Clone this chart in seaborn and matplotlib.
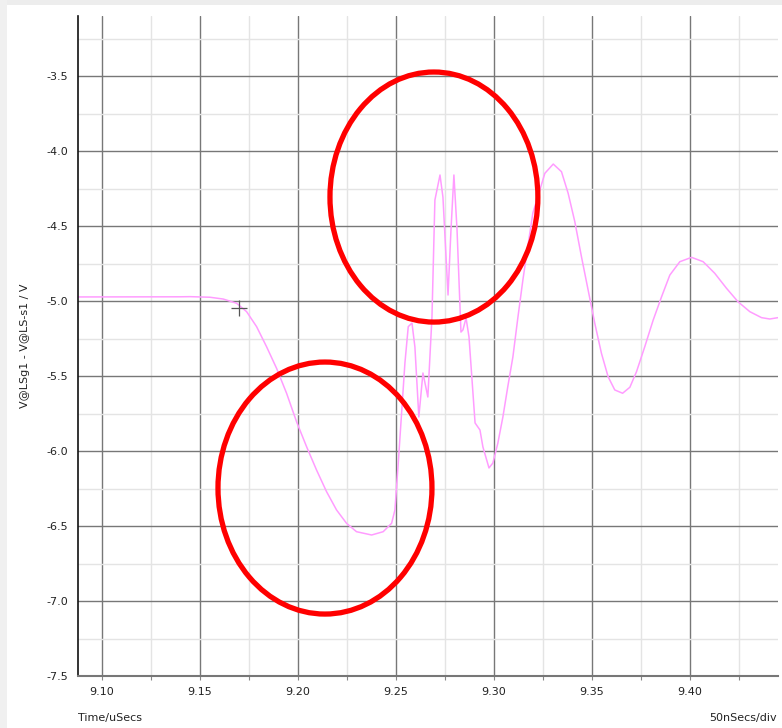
import numpy as np
import pandas as pd
import matplotlib
matplotlib.use("Agg")
import matplotlib.pyplot as plt
from matplotlib.patches import Ellipse, Rectangle
from matplotlib.ticker import MultipleLocator, FixedLocator
import seaborn as sns

# -----------------------------
# Data
# -----------------------------
time_us = [
    9.0875, 9.1398, 9.1449, 9.1551, 9.1619, 9.1687, 9.1738, 9.1789, 9.1840,
    9.1891, 9.1942, 9.1993, 9.2044, 9.2095, 9.2146, 9.2197, 9.2248, 9.2299,
    9.2376, 9.2435, 9.2478, 9.2495, 9.2512, 9.2529, 9.2546, 9.2563, 9.2582,
    9.2597, 9.2617, 9.2638, 9.2663, 9.2684, 9.2699, 9.2725, 9.2740, 9.2766,
    9.2781, 9.2796, 9.2812, 9.2832, 9.2842, 9.2858, 9.2873, 9.2904, 9.2929,
    9.2944, 9.2975, 9.2995, 9.3020, 9.3046, 9.3071, 9.3097, 9.3122, 9.3148,
    9.3173, 9.3199, 9.3230, 9.3260, 9.3303, 9.3345, 9.3379, 9.3413, 9.3447,
    9.3481, 9.3515, 9.3549, 9.3583, 9.3617, 9.3657, 9.3694, 9.3728, 9.3770,
    9.3813, 9.3856, 9.3898, 9.3949, 9.4009, 9.4068, 9.4127, 9.4187, 9.4246,
    9.4306, 9.4366, 9.4408, 9.4450,
]
voltage = [
    -4.973, -4.972, -4.971, -4.975, -4.987, -5.015, -5.071, -5.171, -5.305,
    -5.449, -5.615, -5.805, -5.971, -6.127, -6.271, -6.393, -6.482, -6.538,
    -6.560, -6.538, -6.482, -6.393, -6.080, -5.747, -5.413, -5.171, -5.147,
    -5.307, -5.773, -5.480, -5.640, -5.107, -4.327, -4.160, -4.307, -4.960,
    -4.527, -4.160, -4.527, -5.207, -5.193, -5.113, -5.240, -5.813, -5.860,
    -5.973, -6.113, -6.080, -5.949, -5.773, -5.571, -5.373, -5.115, -4.860,
    -4.638, -4.413, -4.280, -4.149, -4.087, -4.138, -4.282, -4.471, -4.705,
    -4.927, -5.149, -5.349, -5.505, -5.593, -5.615, -5.575, -5.471, -5.305,
    -5.127, -4.971, -4.827, -4.738, -4.709, -4.738, -4.815, -4.915, -5.005,
    -5.071, -5.111, -5.120, -5.111,
]

# cursor cross and the two red highlight ellipses (center t, center v, width, height)
cursor_t, cursor_v = 9.1699, -5.047
ellipse_upper = (9.2694, -4.307, 0.1061, 1.667)
ellipse_lower = (9.2138, -6.247, 0.1092, 1.680)

x_ticks = [9.10, 9.15, 9.20, 9.25, 9.30, 9.35, 9.40]
y_ticks = [-7.5, -7.0, -6.5, -6.0, -5.5, -5.0, -4.5, -4.0, -3.5]

df = pd.DataFrame({"t": time_us, "v": voltage})

# -----------------------------
# Plot
# -----------------------------
sns.set_theme(style="white")
plt.rcParams["font.family"] = ["DejaVu Sans"]

W, H = 782, 728
fig = plt.figure(figsize=(W / 100, H / 100), dpi=100)
fig.patch.set_facecolor("white")

# window frame strips
fig.add_artist(Rectangle((0, 1 - 5 / H), 1, 5 / H, transform=fig.transFigure,
                         color="#ededed", lw=0))
fig.add_artist(Rectangle((0, 0), 7 / W, 1, transform=fig.transFigure,
                         color="#f0f0f0", lw=0))

left, right, top, bottom = 77.5, 778, 16, 676
ax = fig.add_axes([left / W, 1 - bottom / H, (right - left) / W, (bottom - top) / H])

ax.set_xlim(9.0875, 9.4450)
ax.set_ylim(-7.5, -3.1)

ax.xaxis.set_major_locator(FixedLocator(x_ticks))
ax.xaxis.set_minor_locator(MultipleLocator(0.025))
ax.yaxis.set_major_locator(FixedLocator(y_ticks))
ax.yaxis.set_minor_locator(MultipleLocator(0.25))

ax.grid(which="minor", color="#e4e4e4", lw=1.0)
ax.grid(which="major", color="#777777", lw=1.0)
ax.set_axisbelow(True)

sns.lineplot(data=df, x="t", y="v", ax=ax, color="#ff9cff", lw=1.1, sort=False)
ax.plot([cursor_t], [cursor_v], marker="+", ms=12, mew=0.9, color="#555555", ls="none")

for cx, cy, ew, eh in (ellipse_upper, ellipse_lower):
    ax.add_patch(Ellipse((cx, cy), ew, eh, fill=False, ec="#ff0000", lw=3.8,
                         clip_on=False, zorder=5))

ax.set_xticklabels([f"{x:.2f}" for x in x_ticks])
ax.set_yticklabels([f"{y:.1f}" for y in y_ticks])
ax.tick_params(axis="x", which="both", direction="out", length=3, width=0.8,
               color="#888888", pad=5, labelsize=8, labelcolor="#222222", bottom=True)
ax.tick_params(axis="y", which="both", length=0, pad=7, labelsize=8, labelcolor="#222222")

for s in ("top", "right"):
    ax.spines[s].set_visible(False)
ax.spines["left"].set_color("#111111")
ax.spines["left"].set_linewidth(1.2)
ax.spines["bottom"].set_color("#777777")
ax.spines["bottom"].set_linewidth(1.5)

ax.set_xlabel("")
ax.set_ylabel("V@LSg1 - V@LS-s1 / V", fontsize=8, color="#222222")
ax.yaxis.set_label_coords(-0.068, 0.5)

fig.text(78 / W, 1 - 718 / H, "Time/uSecs", fontsize=8, color="#222222",
         ha="left", va="center")
fig.text(777 / W, 1 - 718 / H, "50nSecs/div", fontsize=8, color="#222222",
         ha="right", va="center")

plt.savefig("out.png", dpi=100)
plt.close()
